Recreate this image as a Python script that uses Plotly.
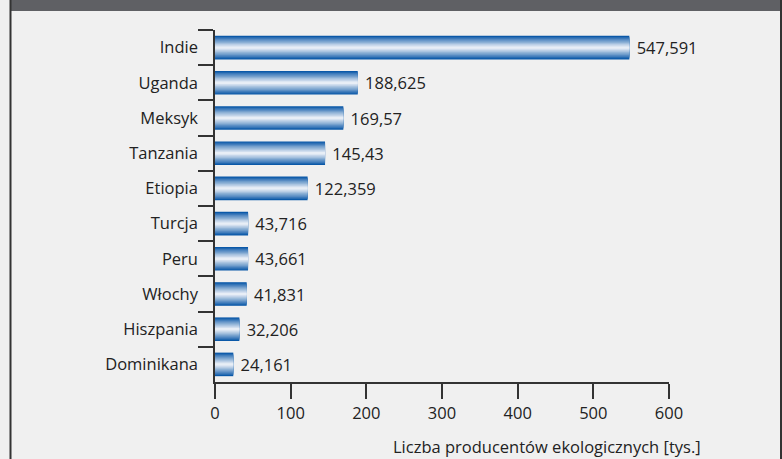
import plotly.graph_objects as go

countries = ["Indie", "Uganda", "Meksyk", "Tanzania", "Etiopia", "Turcja", "Peru",
             "Włochy", "Hiszpania", "Dominikana"]
values = [547.591, 188.625, 169.57, 145.43, 122.359, 43.716, 43.661, 41.831, 32.206, 24.161]
labels = ["\u00a0" + str(v).replace(".", ",") for v in values]
x_ticks = [0, 100, 200, 300, 400, 500, 600]
axis_title = "Liczba producentów ekologicznych [tys.]"

W, H = 782, 459
L, R, T, B = 215, 113, 30, 77
pw, ph = W - L - R, H - T - B

def px(x):
    return (x - L) / pw

def py(y):
    return (H - B - y) / ph

FONT = "Open Sans"
FS = 16.5
fig = go.Figure()

# gradient simulation: stacked overlay bars, dark edges -> light centre
dark = (10, 88, 168)
light = (232, 238, 246)
n = 10
full_w = 0.67
for i in range(n):
    t = i / (n - 1)
    t2 = t ** 0.9
    c = tuple(int(dark[k] + (light[k] - dark[k]) * t2) for k in range(3))
    w = full_w * (1 - i / n)
    fig.add_trace(go.Bar(
        y=countries, x=values, orientation="h", width=w,
        marker=dict(color="rgb(%d,%d,%d)" % c, line=dict(width=0)),
        text=labels if i == 0 else None,
        textposition="outside" if i == 0 else "none",
        textfont=dict(family=FONT, size=FS, color="#222"),
        cliponaxis=False, hoverinfo="skip", showlegend=False,
    ))

fig.update_layout(
    width=W, height=H, barmode="overlay",
    margin=dict(l=L, r=R, t=T, b=B),
    paper_bgcolor="#f0f0f0", plot_bgcolor="#f0f0f0",
    font=dict(family=FONT, size=FS, color="#222"),
    xaxis=dict(range=[0, 600], tickvals=x_ticks, ticks="outside", ticklen=15,
               tickwidth=1.5, tickcolor="#333", showline=True, linecolor="#333",
               linewidth=1.5, showgrid=False, zeroline=False,
               tickfont=dict(family=FONT, size=FS, color="#222")),
    yaxis=dict(categoryorder="array", categoryarray=countries, autorange="reversed",
               ticks="outside", tickson="boundaries", ticklen=15, tickwidth=1.5,
               tickcolor="#333", showline=True, linecolor="#333", linewidth=1.5,
               showgrid=False, ticklabelstandoff=12,
               tickfont=dict(family=FONT, size=FS, color="#222")),
    shapes=[
        dict(type="rect", xref="paper", yref="paper", x0=px(11), x1=px(781),
             y0=py(11), y1=py(0), fillcolor="#5f6064", line=dict(width=0), layer="above"),
        dict(type="line", xref="paper", yref="paper", x0=px(10.5), x1=px(10.5),
             y0=py(0), y1=py(H), line=dict(color="#333", width=2)),
        dict(type="line", xref="paper", yref="paper", x0=px(781), x1=px(781),
             y0=py(0), y1=py(H), line=dict(color="#333", width=2)),
    ],
    annotations=[dict(text=axis_title, xref="paper", yref="paper", x=px(703), y=py(446),
                      xanchor="right", yanchor="middle", showarrow=False,
                      font=dict(family=FONT, size=FS, color="#222"))],
)
fig.write_html("out.html", config={"displayModeBar": False},
               post_script="document.body.style.margin='0';document.body.style.overflow='hidden';")
